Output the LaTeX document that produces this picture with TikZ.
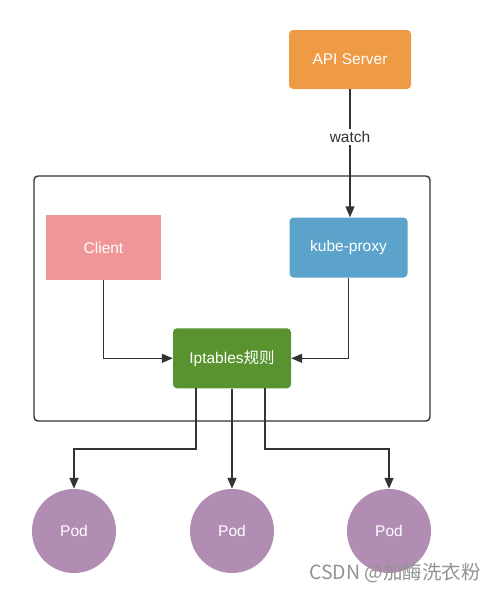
\documentclass[tikz,border=0pt]{standalone}
\usepackage{fontspec}
\setmainfont{Liberation Sans}
\newfontfamily\cjk{Noto Sans CJK SC}
\usetikzlibrary{arrows.meta}
\definecolor{apiorange}{HTML}{EF9A45}
\definecolor{clientpink}{HTML}{EF9797}
\definecolor{proxyblue}{HTML}{5CA3CC}
\definecolor{iptgreen}{HTML}{589330}
\definecolor{podpurple}{HTML}{B18DB3}
\definecolor{linegray}{HTML}{333333}
\begin{document}
\begin{tikzpicture}[x=1pt,y=-1pt,
  box/.style={draw=none,text=white,font=\fontsize{15.5}{18}\selectfont,inner sep=0pt},
  conn/.style={draw=linegray,line width=1.4pt,-{Triangle[length=11pt,width=9pt]}},
  plain/.style={draw=linegray,line width=1.4pt}]
\useasboundingbox (0,0) rectangle (495,592);
\fill[white] (0,0) rectangle (495,592);
% outer frame
\draw[linegray,line width=1.4pt,rounded corners=4pt] (34,176) rectangle (430,421);
% nodes
\node[box,fill=apiorange,rounded corners=4pt,minimum width=122pt,minimum height=59pt] (api) at (350,59.5) {API Server};
\node[box,fill=clientpink,minimum width=115pt,minimum height=65pt] (client) at (103.5,247.5) {Client};
\node[box,fill=proxyblue,rounded corners=4pt,minimum width=118pt,minimum height=60pt] (proxy) at (348.5,247.5) {kube-proxy};
\node[box,fill=iptgreen,rounded corners=4pt,minimum width=118pt,minimum height=60pt] (ipt) at (232,358.3) {Iptables{\cjk 规则}};
\node[box,fill=podpurple,circle,minimum size=84pt] (pod1) at (74,531) {Pod};
\node[box,fill=podpurple,circle,minimum size=84pt] (pod2) at (232,531) {Pod};
\node[box,fill=podpurple,circle,minimum size=84pt] (pod3) at (389,531) {Pod};
% watch
\node[fill=white,inner sep=2pt,font=\fontsize{15.5}{18}\selectfont,text=linegray] (watch) at (350,137) {watch};
\draw[plain] (api.south) -- (watch.north);
\draw[conn] (watch.south) -- (watch.south |- proxy.north);
% client / proxy to iptables
\draw[conn] (client.south) |- (ipt.west);
\draw[conn] (proxy.south) |- (ipt.east);
% iptables to pods
\coordinate (b1) at (196,388.3);
\coordinate (b3) at (265,388.3);
\coordinate (k1) at (196,449);
\coordinate (k3) at (265,449);
\draw[conn] (b1) -- (k1) -| (pod1.north);
\draw[conn] (ipt.south) -- (pod2.north);
\draw[conn] (b3) -- (k3) -| (pod3.north);
% watermark
\node[anchor=east,text=gray!85,font=\cjk\fontsize{19.5}{22}\selectfont,inner sep=0pt] (wm) at (481,573) {CSDN @加酶洗衣粉};
\end{tikzpicture}
\end{document}
